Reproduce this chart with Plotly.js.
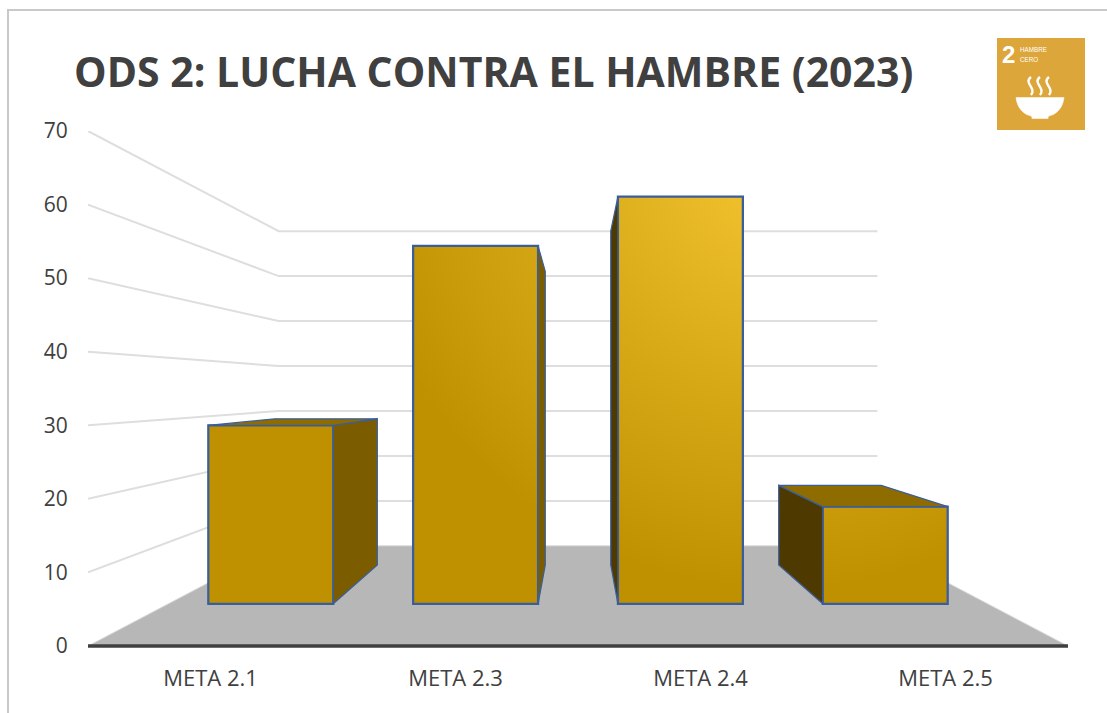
<!DOCTYPE html>
<html>
<head>
<meta charset="utf-8">
<script src="https://cdn.plot.ly/plotly-3.0.1.min.js"></script>
<style>html,body{margin:0;padding:0;background:#fff;overflow:hidden}#chart{width:1107px;height:713px}</style>
</head>
<body>
<div id="chart"></div>
<script>
// ---- data ----
const categories = ['META 2.1', 'META 2.3', 'META 2.4', 'META 2.5'];
const values = [29, 58.2, 66.2, 15.8];
const yTicks = [0, 10, 20, 30, 40, 50, 60, 70];

// ---- 3D look: perspective toward the middle of the plot ----
const vanish = {c: 1.5, v: 35};
const S_FRONT = 0.836, S_BARBACK = 0.6855, S_WALL = 0.611, HALF = 0.305;
const project = (c, v, s) => [vanish.c + (c - vanish.c) * s, vanish.v + (v - vanish.v) * s];

const BLUE = '#3A5E9C', FRONT = '#BF9000', RIGHT = '#7B5D00', LEFT = '#4E3900', TOP = '#8F6C00';
const INK = '#404040', GRID = '#DEDEDE', FLOOR = '#B7B7B7';
const FONT = '"Open Sans", sans-serif';

const poly = (pts, color, name) => ({
  type: 'scatter', mode: 'lines', fill: 'toself', fillcolor: color, name,
  x: pts.map(p => p[0]).concat(pts[0][0]), y: pts.map(p => p[1]).concat(pts[0][1]),
  line: {color: BLUE, width: 1.25}, hoverinfo: 'skip', showlegend: false
});

const traces = [{
  type: 'bar',
  x: categories.map((_, i) => project(i, 0, S_FRONT)[0]),
  base: categories.map((_, i) => project(i, 0, S_FRONT)[1]),
  y: values.map((v, i) => project(i, v, S_FRONT)[1] - project(i, 0, S_FRONT)[1]),
  width: categories.map(() => 2 * HALF * S_FRONT),
  marker: {color: FRONT, line: {color: BLUE, width: 2.25}},
  text: categories, textposition: 'none', hoverinfo: 'text', showlegend: false
}];

values.forEach((v, i) => {
  const rightEdge = i + HALF, leftEdge = i - HALF;
  const edge = rightEdge < vanish.c ? rightEdge : leftEdge;
  const col = rightEdge < vanish.c ? RIGHT : LEFT;
  traces.push(poly([project(edge, 0, S_FRONT), project(edge, v, S_FRONT),
                    project(edge, v, S_BARBACK), project(edge, 0, S_BARBACK)], col, categories[i] + ' lado'));
  if (v < vanish.v) {
    traces.push(poly([project(leftEdge, v, S_FRONT), project(rightEdge, v, S_FRONT),
                      project(rightEdge, v, S_BARBACK), project(leftEdge, v, S_BARBACK)], TOP, categories[i] + ' techo'));
  }
});

// ---- walls and floor, below the marks ----
const shapes = [];
const XL = -0.5, XR = 3.5;
yTicks.filter(v => v > 0).forEach(v => {
  const a = project(XL, v, 1), b = project(XL, v, S_WALL), c = project(XR, v, S_WALL);
  shapes.push({type: 'path', xref: 'x', yref: 'y', layer: 'below',
    path: `M${a[0]},${a[1]} L${b[0]},${b[1]} L${c[0]},${c[1]}`,
    line: {color: GRID, width: 2}, fillcolor: 'rgba(0,0,0,0)'});
});
{
  const p = [project(XL, 0, 1), project(XL, 0, S_WALL), project(XR, 0, S_WALL), project(XR, 0, 1)];
  shapes.push({type: 'path', xref: 'x', yref: 'y', layer: 'below',
    path: 'M' + p.map(q => q.join(',')).join(' L') + ' Z',
    fillcolor: FLOOR, line: {color: '#DADADA', width: 1}});
}

// ---- frame, category axis line and SDG icon, placed in page pixels ----
const PL = 88, PR = 1068, PT = 131, PB = 646;
const fx = x => (x - PL) / (PR - PL), fy = y => (PB - y) / (PB - PT);
const pg = {xref: 'paper', yref: 'paper', layer: 'above'};
shapes.push(Object.assign({}, pg, {type: 'line', x0: 0, x1: 1, y0: 0, y1: 0, line: {color: INK, width: 3.5}}));
shapes.push(Object.assign({}, pg, {type: 'line', x0: fx(8), x1: fx(8), y0: fy(10), y1: fy(713), line: {color: '#C9C9C9', width: 2}}));
shapes.push(Object.assign({}, pg, {type: 'line', x0: fx(7), x1: fx(1107), y0: fy(10), y1: fy(10), line: {color: '#C9C9C9', width: 2}}));
shapes.push(Object.assign({}, pg, {type: 'rect', x0: fx(997), x1: fx(1085), y0: fy(38), y1: fy(130), fillcolor: '#DDA63A', line: {width: 0}}));
const P = (x, y) => `${fx(x)},${fy(y)}`;
shapes.push(Object.assign({}, pg, {type: 'path', fillcolor: '#FFFFFF', line: {color: '#FFFFFF', width: 0.5},
  path: `M${P(1016, 97.5)} L${P(1064, 97.5)} C${P(1063, 108)} ${P(1056, 115)} ${P(1048.5, 116)} L${P(1048, 118.5)} L${P(1032, 118.5)} L${P(1031.5, 116)} C${P(1024, 115)} ${P(1017, 108)} ${P(1016, 97.5)} Z`}));
[1027, 1036, 1045].forEach(x => {
  shapes.push(Object.assign({}, pg, {type: 'path', fillcolor: 'rgba(0,0,0,0)', line: {color: '#FFFFFF', width: 2.4},
    path: `M${P(x + 4, 77)} C${P(x - 4, 83)} ${P(x + 10, 88)} ${P(x + 4, 95)}`}));
});

const layout = {
  width: 1107, height: 713,
  margin: {l: PL, r: 1107 - PR, t: PT, b: 713 - PB, pad: 0},
  paper_bgcolor: '#FFFFFF', plot_bgcolor: 'rgba(0,0,0,0)',
  showlegend: false, hovermode: 'closest',
  title: {text: 'ODS 2: LUCHA CONTRA EL HAMBRE (2023)', xref: 'container', yref: 'container',
    x: 74 / 1107, xanchor: 'left', y: 1 - 73 / 713, yanchor: 'middle',
    font: {family: FONT, size: 41, weight: 700, color: INK}},
  xaxis: {type: 'linear', range: [XL, XR], tickmode: 'array', tickvals: categories.map((_, i) => i), ticktext: categories,
    showgrid: false, zeroline: false, showline: false,
    ticks: 'outside', ticklen: 13, tickcolor: 'rgba(0,0,0,0)', tickfont: {family: FONT, size: 22, color: INK}},
  yaxis: {range: [0, 70], tickmode: 'array', tickvals: yTicks, ticktext: yTicks.map(String),
    showgrid: false, zeroline: false, showline: false,
    ticks: 'outside', ticklen: 15, tickcolor: 'rgba(0,0,0,0)', tickfont: {family: FONT, size: 21, color: INK}},
  shapes,
  annotations: [
    {xref: 'paper', yref: 'paper', x: fx(1008), y: fy(54.5), text: '<b>2</b>', showarrow: false, xanchor: 'center', yanchor: 'middle',
     font: {family: '"Liberation Sans",sans-serif', size: 24, color: '#FFFFFF'}},
    {xref: 'paper', yref: 'paper', x: fx(1018), y: fy(49.5), text: 'HAMBRE', showarrow: false, xanchor: 'left', yanchor: 'middle',
     font: {family: '"Liberation Sans",sans-serif', size: 6.3, color: '#FFFFFF'}},
    {xref: 'paper', yref: 'paper', x: fx(1018), y: fy(60), text: 'CERO', showarrow: false, xanchor: 'left', yanchor: 'middle',
     font: {family: '"Liberation Sans",sans-serif', size: 6.3, color: '#FFFFFF'}}
  ]
};

Plotly.newPlot('chart', traces, layout, {displayModeBar: false, responsive: false}).then(gd => {
  // soft light coming from the top right of the plot, as in the picture
  // (bars live in a group translated by the plot margins)
  const svg = gd.querySelector('.main-svg');
  const NS = 'http://www.w3.org/2000/svg';
  const defs = svg.querySelector('defs') || svg.insertBefore(document.createElementNS(NS, 'defs'), svg.firstChild);
  const g = document.createElementNS(NS, 'radialGradient');
  g.setAttribute('id', 'barLight');
  g.setAttribute('gradientUnits', 'userSpaceOnUse');
  g.setAttribute('cx', 780 - PL); g.setAttribute('cy', 170 - PT); g.setAttribute('r', 420);
  [[0.1, '#EFC02C'], [1, FRONT]].forEach(([o, c]) => {
    const s = document.createElementNS(NS, 'stop');
    s.setAttribute('offset', o); s.setAttribute('stop-color', c);
    g.appendChild(s);
  });
  defs.appendChild(g);
  gd.querySelectorAll('.barlayer .point path').forEach(p => { p.style.fill = 'url(#barLight)'; });
});
</script>
</body>
</html>
